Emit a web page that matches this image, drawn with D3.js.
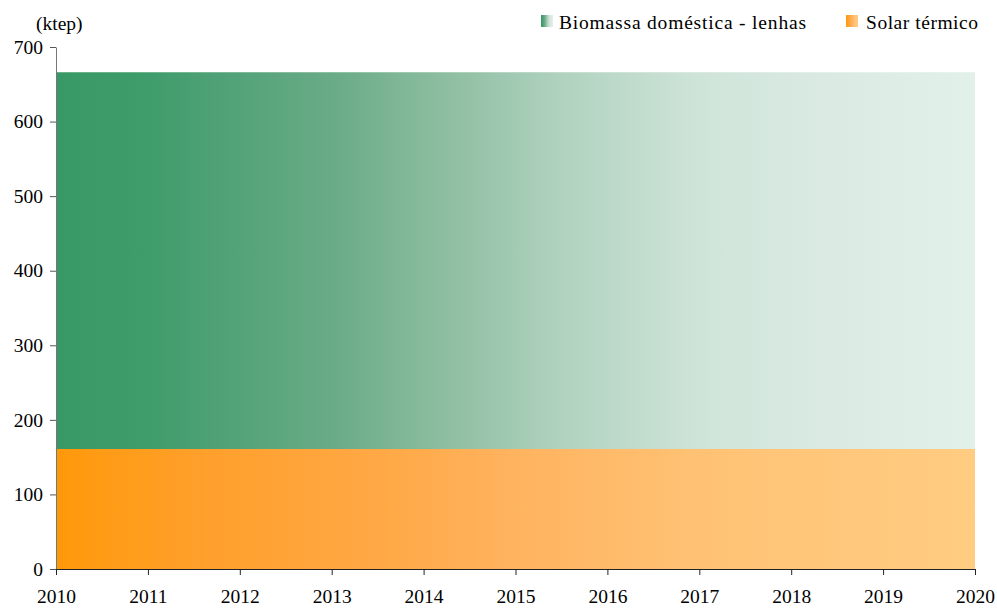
<!DOCTYPE html>
<html lang="pt">
<head>
<meta charset="UTF-8">
<script src="https://cdn.jsdelivr.net/npm/d3@7/dist/d3.min.js"></script>
<style>
  body { margin: 0; background: #fff; }
</style>
</head>
<body>
<svg width="997" height="612"></svg>
<script>
// data
const years = [2010, 2011, 2012, 2013, 2014, 2015, 2016, 2017, 2018, 2019, 2020];
const solar = [161, 161, 161, 161, 161, 161, 161, 161, 161, 161, 161];
const biomassa = [505, 505, 505, 505, 505, 505, 505, 505, 505, 505, 505];
const seriesNames = ["Biomassa doméstica - lenhas", "Solar térmico"];
const yTicks = [0, 100, 200, 300, 400, 500, 600, 700];

const width = 997, height = 612;
const margin = {top: 47, right: 22, bottom: 43, left: 56};
const fontFam = "Liberation Serif";

const svg = d3.select("svg");

const x = d3.scaleLinear()
    .domain([2010, 2020])
    .range([margin.left, width - margin.right]);

const y = d3.scaleLinear()
    .domain([0, 700])
    .range([height - margin.bottom, margin.top]);

const rows = years.map((yr, i) => ({year: yr, solar: solar[i], biomassa: biomassa[i]}));
const stack = d3.stack().keys(["solar", "biomassa"])(rows);

// gradients
const defs = svg.append("defs");
function grad(id, stops) {
  const g = defs.append("linearGradient").attr("id", id)
      .attr("x1", "0%").attr("x2", "100%").attr("y1", "0%").attr("y2", "0%");
  stops.forEach(s => g.append("stop").attr("offset", s[0]).attr("stop-color", s[1]));
}
grad("gGreen", [[0, "#389966"], [0.1, "#3f9c6b"], [0.3, "#69ab86"], [0.45, "#95c2a7"],
                [0.55, "#b0d2bf"], [0.7, "#cfe4d9"], [0.85, "#dbebe3"], [1, "#e2f0ea"]]);
grad("gOrange", [[0, "#ff990a"], [0.15, "#ff9f2a"], [0.35, "#ffa845"], [0.5, "#ffb35f"],
                 [0.7, "#ffc274"], [1, "#ffcc82"]]);

const area = d3.area()
    .x(d => x(d.data.year))
    .y0(d => y(d[0]))
    .y1(d => y(d[1]));

svg.append("path").datum(stack[0]).attr("fill", "url(#gOrange)").attr("d", area);
svg.append("path").datum(stack[1]).attr("fill", "url(#gGreen)").attr("d", area);

// y axis
const yAxis = svg.append("g")
    .attr("transform", `translate(${margin.left},0)`)
    .call(d3.axisLeft(y).tickValues(yTicks).tickSize(6).tickSizeOuter(0).tickPadding(7));
yAxis.select(".domain").attr("stroke", "#777");
yAxis.selectAll(".tick line").attr("stroke", "#555");
yAxis.selectAll("text").attr("font-size", 19.5).attr("fill", "#000")
    .attr("font-family", fontFam);

// x axis
const xAxis = svg.append("g")
    .attr("transform", `translate(0,${height - margin.bottom})`)
    .call(d3.axisBottom(x).tickValues(years).tickFormat(d3.format("d"))
      .tickSize(6).tickSizeOuter(0).tickPadding(14));
xAxis.select(".domain").attr("stroke", "#222");
xAxis.selectAll(".tick line").attr("stroke", "#222");
xAxis.selectAll("text").attr("font-size", 19.5).attr("fill", "#000")
    .attr("font-family", fontFam);

// unit label
svg.append("text")
    .attr("x", 36).attr("y", 30)
    .attr("font-size", 19.5)
    .attr("font-family", fontFam)
    .text("(ktep)");

// legend
const legend = [
  {name: seriesNames[0], fill: "url(#gGreen)", x: 541, tx: 559, w: 247},
  {name: seriesNames[1], fill: "url(#gOrange)", x: 846, tx: 866, w: 112}
];
legend.forEach(l => {
  svg.append("rect").attr("x", l.x).attr("y", 15).attr("width", 12).attr("height", 12)
      .attr("fill", l.fill);
  svg.append("text").attr("x", l.tx).attr("y", 29).attr("font-size", 19.5)
      .attr("font-family", fontFam)
      .attr("textLength", l.w).attr("lengthAdjust", "spacing")
      .text(l.name);
});
</script>
</body>
</html>
